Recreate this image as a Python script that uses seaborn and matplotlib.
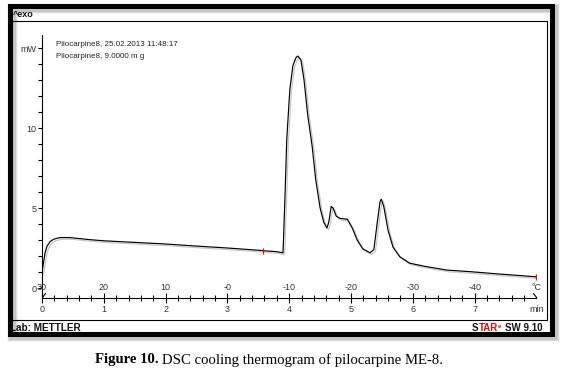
import numpy as np
import pandas as pd
import matplotlib
matplotlib.use("Agg")
import matplotlib.pyplot as plt
import matplotlib.patheffects as pe
from matplotlib.patches import Rectangle
from matplotlib.lines import Line2D
import matplotlib.transforms as mtransforms
import seaborn as sns

# ---------------- data ----------------
time_min = [0.00, 0.025, 0.05, 0.08, 0.13, 0.19, 0.29, 0.45, 0.78, 1.0, 1.5, 2.0,
            2.5, 3.0, 3.5, 3.58, 3.8, 3.90, 3.93, 3.96, 4.01, 4.06, 4.11, 4.14,
            4.19, 4.24, 4.30, 4.37, 4.43, 4.50, 4.56, 4.61, 4.64, 4.68, 4.71,
            4.76, 4.82, 4.94, 5.02, 5.10, 5.19, 5.31, 5.37, 5.42, 5.47, 5.49,
            5.53, 5.60, 5.68, 5.79, 5.95, 6.20, 6.55, 6.93, 7.41, 8.00]
heat_flow_mw = [1.0, 1.6, 2.2, 2.6, 2.9, 3.05, 3.15, 3.15, 3.02, 2.95, 2.85, 2.75,
                2.62, 2.5, 2.36, 2.33, 2.27, 2.2, 5.5, 9.25, 12.4, 13.9, 14.4, 14.5,
                14.25, 13.0, 10.8, 8.9, 6.75, 5.0, 4.1, 3.75, 4.1, 5.1, 5.0,
                4.5, 4.35, 4.3, 3.75, 3.0, 2.45, 2.2, 2.4, 3.95, 5.4, 5.55,
                5.1, 3.6, 2.55, 1.95, 1.55, 1.35, 1.12, 1.02, 0.87, 0.7]
time_ticks = [0, 1, 2, 3, 4, 5, 6, 7, 8]
time_labels = ["0", "1", "2", "3", "4", "5", "6", "7", "min"]
temp_labels = ["30", "20", "10", "-0", "-10", "-20", "-30", "-40", "°C"]
y_ticks = [0, 5, 10, 15]
y_labels = ["0", "5", "10", "mW"]
limit_times = [3.58, 8.0]
header_lines = ["Pilocarpine8, 25.02.2013 11:48:17", "Pilocarpine8, 9.0000 m g"]

df = pd.DataFrame({"time": time_min, "heat": heat_flow_mw})

sns.set_theme(style="white")
plt.rcParams['font.family'] = ['Liberation Sans', 'DejaVu Sans']

W, H = 561, 373
fig = plt.figure(figsize=(W / 100, H / 100), dpi=100)
fig.patch.set_facecolor("white")


def fx(px):
    return px / W


def fy(py):
    return 1 - py / H


def px2pt(p):
    return p * 0.72


# ---------------- screenshot frame ----------------
for k, a in [(1, 0.25), (2, 0.18), (3, 0.10)]:
    fig.patches.append(Rectangle((fx(9.5 + 2), fy(334 + 2)), fx(552) - fx(9.5), fy(5.5) - fy(334),
                                 transform=fig.transFigure, fill=False, edgecolor="gray",
                                 linewidth=px2pt(5 + 2 * k), alpha=a, zorder=0.5))
fig.patches.append(Rectangle((fx(9.5), fy(334)), fx(552) - fx(9.5), fy(5.5) - fy(334),
                             transform=fig.transFigure, fill=False, edgecolor="black",
                             linewidth=px2pt(5), zorder=1))
fig.patches.append(Rectangle((fx(12), fy(320)), fx(547) - fx(12), fy(21) - fy(320),
                             transform=fig.transFigure, fill=False, edgecolor="black",
                             linewidth=0.8, zorder=1))
fig.text(fx(12.5), fy(14.5), "^exo", fontsize=6.5, fontweight="bold", va="center", ha="left",
         color="#111", zorder=5)
fig.text(fx(10), fy(328), "Lab: METTLER", fontsize=7.2, fontweight="bold", va="center", ha="left",
         color="#111")

renderer = fig.canvas.get_renderer()


def chain(parts, x0, y, family=None):
    x = x0
    for s, weight, color, dy, sz, gap in parts:
        kw = {}
        if family:
            kw["family"] = family
        t = fig.text(fx(x), fy(y + dy), s, fontsize=sz, fontweight=weight, color=color,
                     va="center", ha="left", **kw)
        bb = t.get_window_extent(renderer)
        x += bb.width + gap
    return x


chain([("S", "bold", "#111", 0, 7.0, 0), ("TAR", "bold", "#d01010", 0, 7.0, 0.5),
       ("e", "bold", "#d01010", -2, 4.5, 3.5), ("SW 9.10", "bold", "#111", 0, 7.0, 0)], 472, 328)

# caption
cap_parts = [("Figure 10.", "bold", "black", 0, 10.6, 3.5),
             ("DSC cooling thermogram of pilocarpine ME-8.", "normal", "black", 0, 10.6, 0)]
chain(cap_parts, 95, 360, family=["Liberation Serif", "DejaVu Serif"])

# ---------------- plot area ----------------
ax_left, ax_right, ax_top, ax_bot = 42, 536.4, 35, 298
ax = fig.add_axes([fx(ax_left), fy(ax_bot), fx(ax_right) - fx(ax_left), fy(ax_top) - fy(ax_bot)])
ax.set_zorder(3)
ax.patch.set_alpha(0)

sns.lineplot(data=df, x="time", y="heat", ax=ax, color="black", linewidth=0.85, estimator=None)
ax.lines[0].set_path_effects([pe.SimpleLineShadow(offset=(1.2, -1.2), shadow_color="gray", alpha=0.45),
                              pe.Normal()])
ax.plot(limit_times, np.interp(limit_times, time_min, heat_flow_mw), linestyle="none",
        marker="|", color="red", markersize=5, markeredgewidth=0.9)

ax.set_xlim(0, 8)
ax.set_ylim((288 - ax_bot) / 16.0, (288 - ax_top) / 16.0)
ax.set_xlabel("")
ax.set_ylabel("")
for s in ["top", "right"]:
    ax.spines[s].set_visible(False)
for s in ["left", "bottom"]:
    ax.spines[s].set_color("black")
    ax.spines[s].set_linewidth(0.8)

ax.set_xticks(time_ticks)
ax.set_xticklabels(time_labels)
ax.set_xticks([t / 5 for t in range(1, 40) if t % 5 != 0], minor=True)
ax.tick_params(axis="x", which="major", direction="inout", length=7, width=0.8, color="black",
               labelsize=6.5, labelcolor="#333", pad=1.2, bottom=True)
ax.tick_params(axis="x", which="minor", direction="inout", length=5, width=0.8, color="black",
               bottom=True)
ax.xaxis.get_major_ticks()[-1].tick1line.set_visible(False)

ax.set_yticks(y_ticks)
ax.set_yticklabels(y_labels)
ax.set_yticks([v for v in range(1, 16) if v % 5 != 0], minor=True)
ax.tick_params(axis="y", which="both", direction="out", length=2.6, width=0.8, color="black",
               labelsize=6.5, labelcolor="#333", pad=1.5, left=True)

trans = mtransforms.blended_transform_factory(ax.transData, ax.transAxes)
for t, lab in zip(time_ticks, temp_labels):
    ax.text(t, (ax_bot - 287) / (ax_bot - ax_top), lab, transform=trans, fontsize=6.5,
            color="#333", ha="center", va="center")


def axc(px, py):
    return (px - ax_left) / (ax_right - ax_left), (ax_bot - py) / (ax_bot - ax_top)


for (a, b) in [((42.5, 297.5), (45.5, 293.5)), ((533.5, 293.5), (536.8, 297.8))]:
    p1, p2 = axc(*a), axc(*b)
    ax.add_line(Line2D([p1[0], p2[0]], [p1[1], p2[1]], transform=ax.transAxes, color="black",
                       linewidth=0.8, clip_on=False))

for i, line in enumerate(header_lines):
    fig.text(fx(56), fy(45 + 12 * i), line, fontsize=5.8, color="#222", ha="left", va="center")

fig.savefig("out.png", dpi=100, facecolor="white")
